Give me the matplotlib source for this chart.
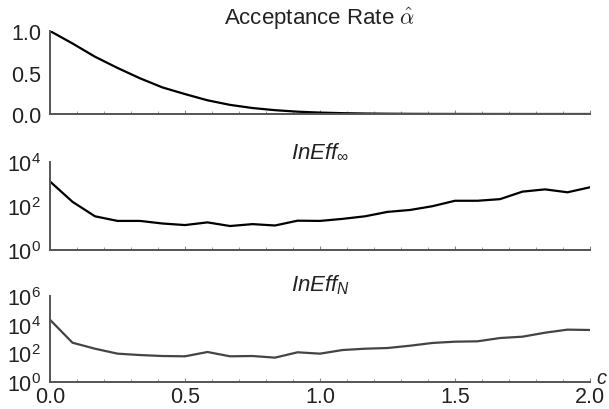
import numpy as np
import matplotlib
matplotlib.use("Agg")
from matplotlib import pyplot as plt
from matplotlib.ticker import MultipleLocator, FixedLocator

plt.rcParams["font.family"] = ["Liberation Sans", "DejaVu Sans"]
plt.rcParams["mathtext.fontset"] = "custom"
plt.rcParams["mathtext.rm"] = "Liberation Sans"
plt.rcParams["mathtext.it"] = "Liberation Sans:italic"
plt.rcParams["text.color"] = "#222222"
plt.rcParams["xtick.labelcolor"] = "#222222"
plt.rcParams["ytick.labelcolor"] = "#222222"

# scale parameter c, 25 grid points from 0 to 2
C = np.linspace(0, 2, 25)

ACCEPT = [1.0, 0.85, 0.69, 0.555, 0.43, 0.32, 0.24, 0.165, 0.11, 0.072,
          0.046, 0.028, 0.017, 0.010, 0.006, 0.0035, 0.002, 0.001, 0.0006,
          0.0003, 0.0002, 0.0001, 0.00005, 0.00003, 0.00001]

INEFF_INF = [1300, 155, 34, 21, 21, 16, 13.6, 18, 12.3, 15, 13, 21.5, 21,
             26, 34, 54, 66, 98, 173, 173, 205, 450, 570, 420, 710]

INEFF_N = [22000, 550, 210, 95, 76, 65, 62, 124, 62, 65, 50, 118, 95,
           170, 210, 235, 340, 530, 650, 690, 1170, 1450, 2750, 4500, 4250]

TITLES = [r"Acceptance Rate $\hat{\alpha}$", r"$\mathit{InEff}_{\infty}$",
          r"$\mathit{InEff}_{N}$"]

SPINE_COLOR = "#555555"
FONT_SIZE = 15.5
TITLE_SIZE = 16

W, H = 609, 410
LEFT, RIGHT = 50, 590
PANELS = [(32, 115), (163, 251), (297, 383)]  # pixel top/bottom


def style_axes(ax, show_x):
    for side in ("top", "right"):
        ax.spines[side].set_visible(False)
    for side in ("left", "bottom"):
        ax.spines[side].set_color(SPINE_COLOR)
        ax.spines[side].set_linewidth(1.4)
    ax.set_xlim(0, 2)
    ax.xaxis.set_major_locator(MultipleLocator(0.5))
    ax.xaxis.set_minor_locator(MultipleLocator(0.1))
    ax.tick_params(axis="y", length=0, pad=6.5, labelsize=FONT_SIZE)
    ax.tick_params(axis="x", which="major", length=3, width=0.8,
                   direction="in", color="#888888", pad=3, labelsize=FONT_SIZE)
    ax.tick_params(axis="x", which="minor", length=2, width=0.6,
                   direction="in", color="#888888")
    if not show_x:
        ax.tick_params(axis="x", labelbottom=False)


fig = plt.figure(figsize=(W / 100, H / 100), dpi=100)
axes = []
for top, bottom in PANELS:
    rect = [LEFT / W, 1 - bottom / H, (RIGHT - LEFT) / W, (bottom - top) / H]
    axes.append(fig.add_axes(rect))

ax1, ax2, ax3 = axes

ax1.plot(C, ACCEPT, color="black", lw=1.6, solid_capstyle="butt")
ax1.set_ylim(0, 1)
ax1.set_yticks([0, 0.5, 1.0])
ax1.set_yticklabels(["0.0", "0.5", "1.0"])
style_axes(ax1, False)
ax1.set_title(TITLES[0], fontsize=TITLE_SIZE, pad=4, math_fontfamily="cm")

ax2.plot(C, INEFF_INF, color="black", lw=1.6)
ax2.set_yscale("log")
ax2.set_ylim(1, 1e4)
ax2.yaxis.set_major_locator(FixedLocator([1, 1e2, 1e4]))
ax2.yaxis.set_minor_locator(FixedLocator([]))
style_axes(ax2, False)
ax2.set_title(TITLES[1], fontsize=TITLE_SIZE, pad=4)

ax3.plot(C, INEFF_N, color="#444444", lw=1.6)
ax3.set_yscale("log")
ax3.set_ylim(1, 1e6)
ax3.yaxis.set_major_locator(FixedLocator([1, 1e2, 1e4, 1e6]))
ax3.yaxis.set_minor_locator(FixedLocator([]))
style_axes(ax3, True)
ax3.set_title(TITLES[2], fontsize=TITLE_SIZE, pad=3)
ax3.text(1.012, 0.05, "c", transform=ax3.transAxes, fontsize=FONT_SIZE - 1,
         style="italic", ha="left", va="center")

fig.savefig("out.png", dpi=100)
